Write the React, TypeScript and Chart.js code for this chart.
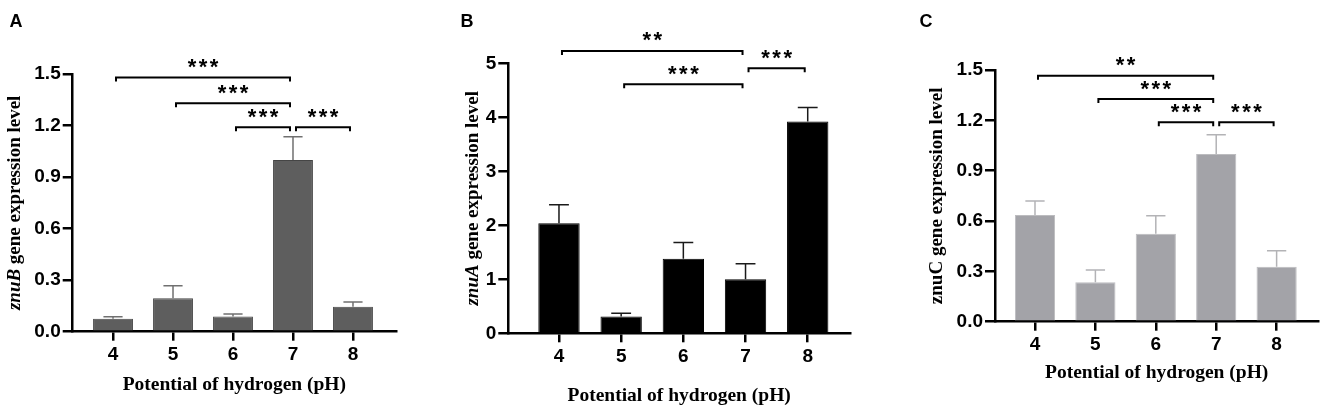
import { useEffect, useRef } from "react";
import { Chart, registerables } from "chart.js";

Chart.register(...registerables);

// pH levels tested
const phLevels = [4, 5, 6, 7, 8];

// relative expression (mean) and upper error (SD)
const znuBMean = [0.075, 0.195, 0.088, 1.0, 0.145];
const znuBSd = [0.012, 0.073, 0.015, 0.135, 0.028];
const znuAMean = [2.04, 0.31, 1.38, 1.0, 3.92];
const znuASd = [0.34, 0.06, 0.3, 0.29, 0.26];
const znuCMean = [0.636, 0.235, 0.524, 1.0, 0.328];
const znuCSd = [0.083, 0.073, 0.108, 0.114, 0.095];

// significance brackets: [from pH, to pH, bracket height, label]
const znuBSignif: [number, number, number, string][] = [
  [4, 7, 1.48, "***"],
  [5, 7, 1.33, "***"],
  [6, 7, 1.19, "***"],
  [7, 8, 1.19, "***"],
];
const znuASignif: [number, number, number, string][] = [
  [4, 7, 5.23, "**"],
  [5, 7, 4.61, "***"],
  [7, 8, 4.91, "***"],
];
const znuCSignif: [number, number, number, string][] = [
  [4, 7, 1.465, "**"],
  [5, 7, 1.327, "***"],
  [6, 7, 1.188, "***"],
  [7, 8, 1.188, "***"],
];

const SANS = "'Liberation Sans', Arial, sans-serif";
const SERIF = "'Liberation Serif', 'Times New Roman', serif";

interface PanelProps {
  letter: string;
  letterX: number;
  gene: string;
  geneItalic: boolean;
  mean: number[];
  sd: number[];
  signif: [number, number, number, string][];
  yMax: number;
  yStep: number;
  decimals: number;
  fill: string;
  border: string;
  errColor: string;
  // layout of the panel canvas
  left: number;
  width: number;
  axisLeft: number;
  plotTop: number;
  plotBottom: number;
  plotRight: number;
  xMin: number;
  xMax: number;
  yTitleX: number;
  xTitlePad: number;
}

const Panel = (p: PanelProps) => {
  const canvasRef = useRef<HTMLCanvasElement | null>(null);

  useEffect(() => {
    if (!canvasRef.current) return;
    const H = 412;

    const annotate = {
      id: "annotate",
      afterDatasetsDraw(chart: any) {
        const { ctx, chartArea } = chart;
        const x = chart.scales.x;
        const y = chart.scales.y;
        const meta = chart.getDatasetMeta(0);
        ctx.save();

        // error bars (upper only)
        ctx.strokeStyle = p.errColor;
        ctx.lineWidth = 1.5;
        meta.data.forEach((bar: any, i: number) => {
          const top = y.getPixelForValue(p.mean[i] + p.sd[i]);
          const half = bar.width * 0.24;
          ctx.beginPath();
          ctx.moveTo(bar.x, bar.y);
          ctx.lineTo(bar.x, top);
          ctx.moveTo(bar.x - half, top);
          ctx.lineTo(bar.x + half, top);
          ctx.stroke();
        });

        // significance brackets
        ctx.strokeStyle = "#000";
        ctx.fillStyle = "#000";
        ctx.lineWidth = 2;
        ctx.font = `bold 22px ${SANS}`;
        (ctx as any).letterSpacing = "2.5px";
        ctx.textAlign = "center";
        ctx.textBaseline = "alphabetic";
        p.signif.forEach(([from, to, level, stars]) => {
          const x1 = x.getPixelForValue(from) + 3;
          const x2 = x.getPixelForValue(to) - 3;
          const yy = y.getPixelForValue(level);
          ctx.beginPath();
          ctx.moveTo(x1, yy + 4);
          ctx.lineTo(x1, yy);
          ctx.lineTo(x2, yy);
          ctx.lineTo(x2, yy + 4);
          ctx.stroke();
          ctx.fillText(stars, (x1 + x2) / 2 + 1.25, yy - 14.5 + 11);
        });
        (ctx as any).letterSpacing = "0px";

        // y axis title, gene name in italics
        const cy = (chartArea.top + chartArea.bottom) / 2;
        const italic = `italic bold 19px ${SERIF}`;
        const plain = `bold 19px ${SERIF}`;
        const rest = " gene expression level";
        ctx.font = p.geneItalic ? italic : plain;
        const w1 = ctx.measureText(p.gene).width;
        ctx.font = plain;
        const w2 = ctx.measureText(rest).width;
        ctx.translate(p.yTitleX, cy);
        ctx.rotate(-Math.PI / 2);
        ctx.textAlign = "left";
        ctx.textBaseline = "middle";
        ctx.font = p.geneItalic ? italic : plain;
        ctx.fillText(p.gene, -(w1 + w2) / 2, 0);
        ctx.font = plain;
        ctx.fillText(rest, -(w1 + w2) / 2 + w1, 0);
        ctx.restore();

        // panel letter
        ctx.save();
        ctx.fillStyle = "#000";
        ctx.font = `bold 18px ${SANS}`;
        ctx.textAlign = "center";
        ctx.textBaseline = "middle";
        ctx.fillText(p.letter, p.letterX, 22);
        ctx.restore();
      },
    };

    const chart = new Chart(canvasRef.current, {
      type: "bar",
      data: {
        datasets: [
          {
            data: phLevels.map((ph, i) => ({ x: ph, y: p.mean[i] })),
            backgroundColor: p.fill,
            borderColor: p.border,
            borderWidth: 1,
            barPercentage: 1,
            categoryPercentage: 0.665,
          },
        ],
      },
      options: {
        animation: false,
        responsive: false,
        layout: {
          padding: { left: 0, top: p.plotTop, right: p.width - p.plotRight, bottom: 0 },
        },
        plugins: { legend: { display: false }, tooltip: { enabled: false } },
        scales: {
          x: {
            type: "linear",
            offset: false,
            min: p.xMin,
            max: p.xMax,
            afterBuildTicks: (scale: any) => {
              scale.ticks = phLevels.map((v) => ({ value: v }));
            },
            afterFit: (scale: any) => {
              scale.height = H - p.plotBottom;
            },
            border: { display: true, color: "#000", width: 2.5 },
            grid: {
              display: true,
              offset: false,
              drawOnChartArea: false,
              drawTicks: true,
              tickLength: 9,
              lineWidth: 2.5,
              color: "#000",
            },
            ticks: {
              color: "#000",
              padding: 3,
              font: { family: SANS, weight: "bold", size: 19 },
              callback: (v: any) => String(v),
            },
            title: {
              display: true,
              text: "Potential of hydrogen (pH)",
              color: "#000",
              font: { family: SERIF, weight: "bold", size: 19.5 },
              padding: { top: 0, bottom: p.xTitlePad },
            },
          },
          y: {
            min: 0,
            max: p.yMax,
            afterFit: (scale: any) => {
              scale.width = p.axisLeft;
            },
            border: { display: true, color: "#000", width: 2.5 },
            grid: {
              display: true,
              drawOnChartArea: false,
              drawTicks: true,
              tickLength: 10,
              lineWidth: 2.5,
              color: "#000",
            },
            ticks: {
              stepSize: p.yStep,
              color: "#000",
              padding: 2,
              font: { family: SANS, weight: "bold", size: 19 },
              callback: (v: any) => Number(v).toFixed(p.decimals),
            },
          },
        },
      } as any,
      plugins: [annotate],
    });

    return () => {
      chart.destroy();
    };
  }, [p]);

  return (
    <canvas
      ref={canvasRef}
      width={p.width}
      height={412}
      style={{ position: "absolute", left: p.left, top: 0, width: p.width, height: 412 }}
    />
  );
};

const panels: PanelProps[] = [
  {
    letter: "A", letterX: 16, gene: "znuB", geneItalic: true,
    mean: znuBMean, sd: znuBSd, signif: znuBSignif,
    yMax: 1.5, yStep: 0.3, decimals: 1,
    fill: "#5e5e5e", border: "#454545", errColor: "#707070",
    left: 0, width: 440, axisLeft: 72.7, plotTop: 74, plotBottom: 331.7, plotRight: 396,
    xMin: 3.328, xMax: 8.717, yTitleX: 15, xTitlePad: 15.7,
  },
  {
    letter: "B", letterX: 27, gene: "znuA", geneItalic: true,
    mean: znuAMean, sd: znuASd, signif: znuASignif,
    yMax: 5, yStep: 1, decimals: 0,
    fill: "#000000", border: "#000000", errColor: "#1a1a1a",
    left: 440, width: 440, axisLeft: 68.3, plotTop: 63.3, plotBottom: 333.3, plotRight: 410,
    xMin: 3.185, xMax: 8.68, yTitleX: 33, xTitlePad: 4,
  },
  {
    letter: "C", letterX: 46, gene: "znuC", geneItalic: false,
    mean: znuCMean, sd: znuCSd, signif: znuCSignif,
    yMax: 1.5, yStep: 0.3, decimals: 1,
    fill: "#a3a3a8", border: "#bcbcbf", errColor: "#b3b3b6",
    left: 880, width: 445, axisLeft: 115, plotTop: 70, plotBottom: 321.7, plotRight: 438.3,
    xMin: 3.338, xMax: 8.69, yTitleX: 56.7, xTitlePad: 27.3,
  },
];

export default function App() {
  return (
    <div style={{ position: "absolute", left: 0, top: 0, width: 1325, height: 412, background: "#fff" }}>
      {panels.map((p) => (
        <Panel key={p.letter} {...p} />
      ))}
    </div>
  );
}
